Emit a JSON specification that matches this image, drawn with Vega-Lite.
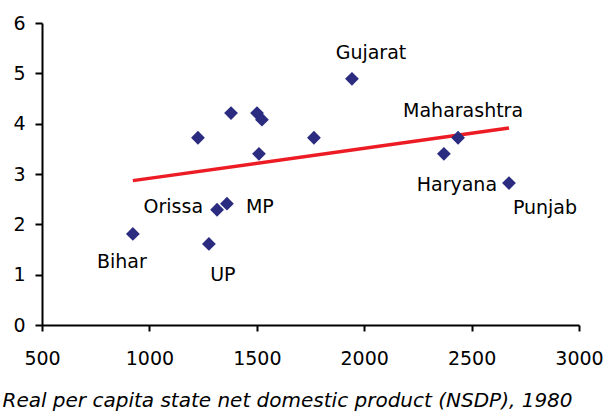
{
  "$schema": "https://vega.github.io/schema/vega-lite/v6.json",
  "autosize": "none",
  "width": 537,
  "height": 302,
  "padding": {"left": 42, "top": 23, "right": 26, "bottom": 87},
  "background": "white",
  "config": {
    "view": {"stroke": null},
    "font": "DejaVu Sans",
    "text": {"font": "DejaVu Sans", "fontSize": 19, "color": "#000000"}
  },
  "data": {
    "values": [
      {"state": "Bihar", "nsdp": 923, "growth": 1.81},
      {"state": "UP", "nsdp": 1277, "growth": 1.61},
      {"state": "Orissa", "nsdp": 1315, "growth": 2.29},
      {"state": "MP", "nsdp": 1361, "growth": 2.41},
      {"state": "", "nsdp": 1226, "growth": 3.72},
      {"state": "", "nsdp": 1380, "growth": 4.21},
      {"state": "", "nsdp": 1501, "growth": 4.21},
      {"state": "", "nsdp": 1524, "growth": 4.08},
      {"state": "", "nsdp": 1510, "growth": 3.40},
      {"state": "", "nsdp": 1766, "growth": 3.72},
      {"state": "Gujarat", "nsdp": 1943, "growth": 4.89},
      {"state": "Maharashtra", "nsdp": 2437, "growth": 3.72},
      {"state": "Haryana", "nsdp": 2371, "growth": 3.40},
      {"state": "Punjab", "nsdp": 2674, "growth": 2.82}
    ]
  },
  "encoding": {
    "x": {
      "field": "nsdp", "type": "quantitative",
      "scale": {"domain": [500, 3000], "nice": false, "zero": false},
      "axis": {
        "values": [500, 1000, 1500, 2000, 2500, 3000], "format": "d",
        "grid": false, "domainColor": "#000", "domainWidth": 2,
        "tickColor": "#000", "tickWidth": 2, "tickSize": 6,
        "labelFont": "DejaVu Sans", "labelFontSize": 19, "labelColor": "#000",
        "labelPadding": 27, "labelBaseline": "middle", "labelFlush": false,
        "title": "Real per capita state net domestic product (NSDP), 1980",
        "titleFont": "DejaVu Sans", "titleFontSize": 20, "titleFontStyle": "italic",
        "titleFontWeight": "normal", "titleColor": "#000",
        "titleAnchor": "start", "titleAlign": "left", "titleX": -40, "titleY": 81,
        "titleBaseline": "alphabetic"
      }
    },
    "y": {
      "field": "growth", "type": "quantitative",
      "scale": {"domain": [0, 6], "nice": false},
      "axis": {
        "values": [0, 1, 2, 3, 4, 5, 6], "format": "d",
        "grid": false, "domainColor": "#000", "domainWidth": 2,
        "tickColor": "#000", "tickWidth": 2, "tickSize": 7,
        "labelFont": "DejaVu Sans", "labelFontSize": 19, "labelColor": "#000",
        "labelPadding": 10, "labelFlush": false,
        "title": null
      }
    }
  },
  "layer": [
    {
      "transform": [{"regression": "growth", "on": "nsdp"}],
      "mark": {"type": "line", "color": "#ED1C24", "strokeWidth": 3.5}
    },
    {
      "mark": {"type": "point", "shape": "diamond", "filled": true, "size": 190, "color": "#2B2B80", "opacity": 1}
    },
    {"transform": [{"filter": "datum.state == 'Gujarat'"}], "mark": {"type": "text", "dx": 19, "dy": -26, "align": "center", "baseline": "middle"}, "encoding": {"text": {"field": "state"}}},
    {"transform": [{"filter": "datum.state == 'Maharashtra'"}], "mark": {"type": "text", "dx": 5, "dy": -27, "align": "center", "baseline": "middle"}, "encoding": {"text": {"field": "state"}}},
    {"transform": [{"filter": "datum.state == 'Haryana'"}], "mark": {"type": "text", "dx": 13, "dy": 31, "align": "center", "baseline": "middle"}, "encoding": {"text": {"field": "state"}}},
    {"transform": [{"filter": "datum.state == 'Punjab'"}], "mark": {"type": "text", "dx": 36, "dy": 25, "align": "center", "baseline": "middle"}, "encoding": {"text": {"field": "state"}}},
    {"transform": [{"filter": "datum.state == 'Orissa'"}], "mark": {"type": "text", "dx": -14, "dy": -3, "align": "right", "baseline": "middle"}, "encoding": {"text": {"field": "state"}}},
    {"transform": [{"filter": "datum.state == 'MP'"}], "mark": {"type": "text", "dx": 19, "dy": 3, "align": "left", "baseline": "middle"}, "encoding": {"text": {"field": "state"}}},
    {"transform": [{"filter": "datum.state == 'Bihar'"}], "mark": {"type": "text", "dx": -11, "dy": 28, "align": "center", "baseline": "middle"}, "encoding": {"text": {"field": "state"}}},
    {"transform": [{"filter": "datum.state == 'UP'"}], "mark": {"type": "text", "dx": 14, "dy": 31, "align": "center", "baseline": "middle"}, "encoding": {"text": {"field": "state"}}}
  ]
}
